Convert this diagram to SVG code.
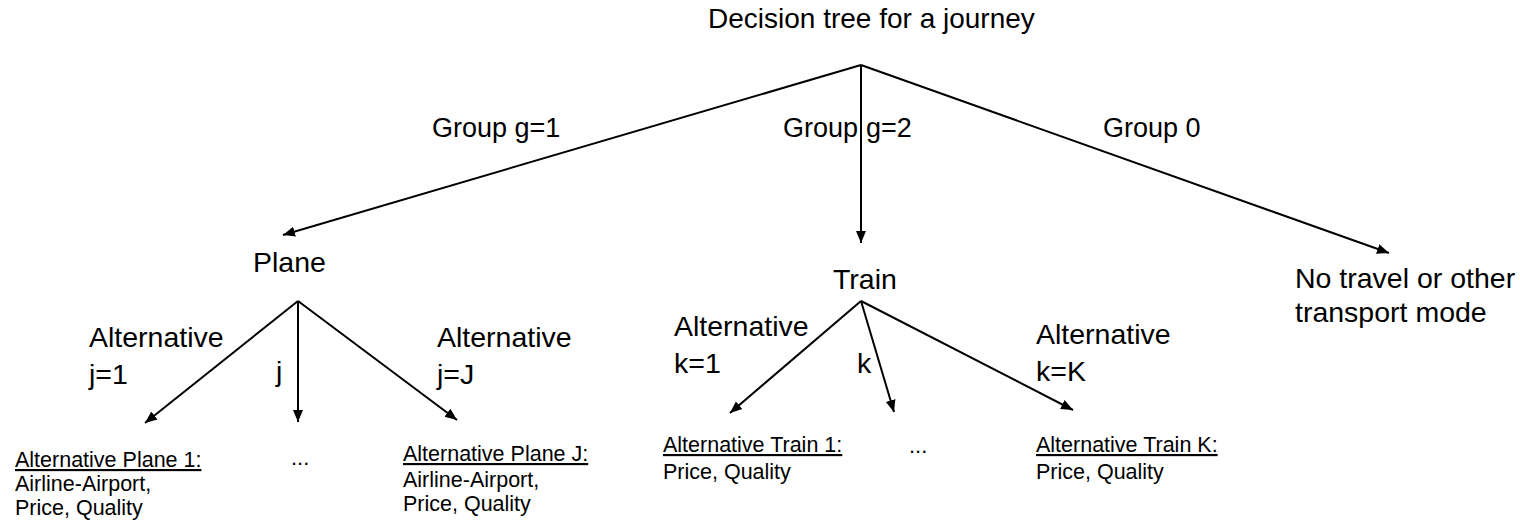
<svg xmlns="http://www.w3.org/2000/svg" width="1520" height="524" viewBox="0 0 1520 524">
  <style>
    text { font-family: "Liberation Sans", Arial, sans-serif; fill: #000; }
    .title { font-size: 28px; }
    .grp { font-size: 27px; }
    .lbl { font-size: 28.5px; }
    .small { font-size: 21.5px; }
    .dots { font-size: 22px; }
    .u { text-decoration: underline; }
    .edge { stroke: #000; stroke-width: 2; fill: none; marker-end: url(#arrow); }
  </style>
  <defs>
    <marker id="arrow" markerUnits="userSpaceOnUse" markerWidth="14" markerHeight="12" refX="12" refY="6" orient="auto">
      <path d="M0,1 L12,6 L0,11 Z" fill="#000"/>
    </marker>
  </defs>
  <rect width="1520" height="524" fill="#fff"/>

  <g id="connectors">
    <line class="edge" x1="861" y1="65" x2="283" y2="235"/>
    <line class="edge" x1="861" y1="65" x2="861" y2="243"/>
    <line class="edge" x1="861" y1="65" x2="1389" y2="253"/>
    <line class="edge" x1="298" y1="301" x2="145" y2="423"/>
    <line class="edge" x1="298" y1="301" x2="298" y2="422"/>
    <line class="edge" x1="298" y1="301" x2="457" y2="420"/>
    <line class="edge" x1="861" y1="301" x2="730" y2="413"/>
    <line class="edge" x1="861" y1="301" x2="894" y2="412"/>
    <line class="edge" x1="861" y1="301" x2="1073" y2="410"/>
  </g>

  <g id="edge-labels">
    <text class="grp" x="432" y="137">Group g=1</text>
    <text class="grp" y="137"><tspan x="783">Group</tspan> <tspan x="866">g=2</tspan></text>
    <text class="grp" x="1103" y="137">Group 0</text>
    <text class="lbl" x="89" y="347">Alternative<tspan x="89" y="384">j=1</tspan></text>
    <text class="lbl" x="276" y="381">j</text>
    <text class="lbl" x="437" y="347">Alternative<tspan x="437" y="384">j=J</tspan></text>
    <text class="lbl" x="674" y="336">Alternative<tspan x="674" y="373">k=1</tspan></text>
    <text class="lbl" x="857" y="373">k</text>
    <text class="lbl" x="1036" y="344">Alternative<tspan x="1036" y="381">k=K</tspan></text>
  </g>

  <g id="node-root">
    <text class="title" x="708" y="28">Decision tree for a journey</text>
  </g>
  <g id="node-plane">
    <text class="lbl" x="253" y="272">Plane</text>
  </g>
  <g id="node-train">
    <text class="lbl" x="833" y="289">Train</text>
  </g>
  <g id="node-none">
    <text class="lbl" x="1295" y="288">No travel or other<tspan x="1295" y="322">transport mode</tspan></text>
  </g>
  <g id="node-plane-1">
    <text class="small u" x="15" y="467">Alternative Plane 1:</text>
    <text class="small" x="15" y="491">Airline-Airport,</text>
    <text class="small" x="15" y="515">Price, Quality</text>
  </g>
  <g id="node-plane-dots">
    <text class="dots" x="291" y="465">...</text>
  </g>
  <g id="node-plane-J">
    <text class="small u" x="403" y="461">Alternative Plane J:</text>
    <text class="small" x="403" y="487">Airline-Airport,</text>
    <text class="small" x="403" y="511">Price, Quality</text>
  </g>
  <g id="node-train-1">
    <text class="small u" x="663" y="452">Alternative Train 1:</text>
    <text class="small" x="663" y="479">Price, Quality</text>
  </g>
  <g id="node-train-dots">
    <text class="dots" x="909" y="453">...</text>
  </g>
  <g id="node-train-K">
    <text class="small u" x="1036" y="452">Alternative Train K:</text>
    <text class="small" x="1036" y="479">Price, Quality</text>
  </g>
</svg>
